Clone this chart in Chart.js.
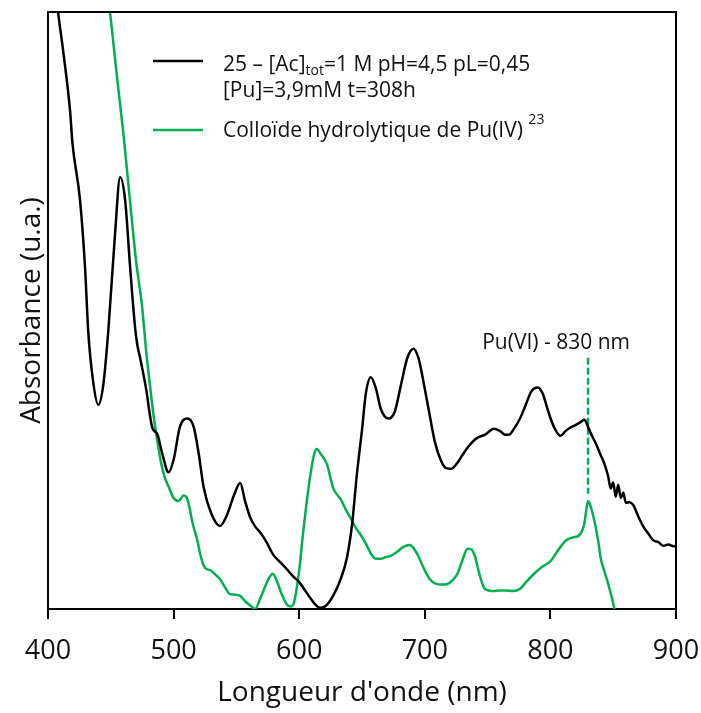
<!DOCTYPE html>
<html>
<head>
<meta charset="utf-8">
<script src="https://cdn.jsdelivr.net/npm/chart.js@4.4.0/dist/chart.umd.min.js"></script>
<style>
    html, body { margin: 0; padding: 0; background: #fff; }
    canvas { display: block; }
</style>
</head>
<body>
<canvas id="spectrumChart" width="701" height="713"></canvas>
<script>
// Black spectrum: 25 - [Ac]tot=1 M pH=4,5 pL=0,45 [Pu]=3,9mM t=308h
const sampleWavelengths = [404, 408, 412, 417.5, 419.5, 425.5, 429.5, 432, 436, 440, 444, 448, 453.4, 457.4, 461.4, 465.4, 469.4, 471, 473.5, 478, 483, 487, 491, 496, 500, 505, 511, 516, 520, 524, 530, 537, 542, 548, 553, 557, 561, 565, 569, 574, 579, 585, 590, 595, 600, 605, 610, 614, 617, 621, 627, 633, 638, 642, 646, 650, 653, 657, 661, 665, 671, 676, 681, 686, 691, 695, 699, 703, 708, 713, 717, 721, 726, 730, 734, 738, 742, 748, 755, 760, 764, 767, 771, 776, 780, 785, 790, 794, 797, 800, 804, 808, 812, 816, 820, 824, 827, 830, 832, 836, 840, 843, 846, 848, 850, 852, 854, 856, 858, 860, 863, 866, 870, 874, 878, 882, 886, 890, 894, 898, 900];
const sampleAbsorbance = [108, 100, 93.6, 83.6, 78, 68.5, 57.2, 46.6, 38, 34.2, 37.5, 46.6, 62.9, 72.3, 68.5, 57.2, 47, 44.4, 41.9, 37, 30.4, 29.3, 26, 22.9, 25, 30.5, 31.9, 30.5, 26, 20.3, 16, 13.9, 15.5, 19, 21.1, 18, 15.3, 13.8, 12.8, 11.2, 9.2, 7.8, 6.7, 5.5, 4.5, 3, 1.5, 0.5, 0.2, 0.5, 2.2, 5, 8.6, 14, 22.7, 30, 36, 38.8, 37, 33.5, 31.9, 33, 37.5, 42, 43.6, 42, 38, 33.5, 28, 24.8, 23.6, 23.5, 24.5, 25.8, 27, 28, 28.7, 29.2, 30.2, 29.8, 29.2, 29.2, 30.2, 32, 34, 36.5, 37.1, 36, 34, 32, 30, 29, 29.8, 30.4, 30.8, 31.3, 31.7, 30.5, 29.5, 27.8, 25.8, 24.3, 22.2, 20.2, 21.2, 18.8, 20.8, 18.6, 19.5, 17.8, 17.9, 17.4, 15.5, 13.8, 12.6, 11.5, 11.2, 10.6, 10.8, 10.5, 10.6];

// Green spectrum: Pu(IV) hydrolytic colloid (ref. 23)
const colloidWavelengths = [447, 449.4, 455, 460, 465, 470, 475, 478, 481, 484, 487, 490, 493, 496, 500, 504, 508, 510, 512, 515, 519, 522, 525, 529, 532, 537, 541, 545, 549, 553, 557, 561, 565, 569, 573, 576, 579, 582, 586, 590, 593, 596, 600, 603, 606, 609, 612, 614, 617, 622, 627, 630, 633, 637, 641, 645, 649, 653, 657, 661, 665, 669, 673, 678, 683, 688, 691, 695, 699, 704, 709, 713, 718, 722, 726, 730, 734, 737, 740, 743, 747, 751, 755, 760, 765, 770, 776, 781, 787, 793, 800, 806, 811, 814, 818, 822, 825, 827, 829, 830, 831, 833, 835, 838, 840, 843, 846, 849, 851, 852];
const colloidAbsorbance = [105, 100, 89, 79.7, 69, 58.5, 50.5, 43.5, 37.8, 32.5, 28.2, 24.5, 22, 20.5, 18.6, 18.1, 19, 18.8, 17.6, 14.5, 11.4, 8.5, 6.9, 6.5, 6, 5, 3.6, 2.5, 2.4, 2.2, 1.3, 0.6, 0, 1.8, 3.8, 5.2, 5.9, 4.8, 2.5, 0.8, 0.4, 1.2, 6.5, 12.6, 18, 22.6, 26, 26.8, 26, 24.3, 20.3, 19.2, 18.4, 16.7, 15.2, 13.6, 12.4, 11, 9.3, 8.4, 8.4, 8.7, 8.9, 9.6, 10.4, 10.7, 10.2, 8.8, 6.9, 5, 4.2, 4.1, 4.2, 4.8, 5.9, 8.2, 10.1, 10, 8.8, 6.2, 3.6, 3.1, 3, 3.1, 3.1, 3, 3.4, 4.6, 5.9, 7, 8, 9.8, 11.2, 11.7, 12, 12.2, 13, 14.3, 17.2, 18.1, 17.8, 16.5, 14.8, 11.5, 8.6, 6.3, 4.2, 1.8, 0, -1.2];

// Pu(VI) marker at 830 nm
const markerWavelengths = [830, 830];
const markerAbsorbance = [42.1, 19.3];
const markerLabel = 'Pu(VI) - 830 nm';

const xTicks = [400, 500, 600, 700, 800, 900];

const BLACK = '#000000';
const GREEN = '#00b050';
const FONT = "'Open Sans', sans-serif";

const toPoints = (xs, ys) => xs.map((x, i) => ({ x: x, y: ys[i] }));

// Frame, legend and the 830 nm label
const decorPlugin = {
    id: 'decor',
    afterDatasetsDraw(chart) {
        const ctx = chart.ctx;
        const area = chart.chartArea;
        ctx.save();

        ctx.strokeStyle = BLACK;
        ctx.lineWidth = 2;
        ctx.beginPath();
        ctx.moveTo(area.left, area.top);
        ctx.lineTo(area.right, area.top);
        ctx.lineTo(area.right, area.bottom);
        ctx.stroke();

        // legend swatches
        ctx.lineWidth = 2.5;
        ctx.strokeStyle = BLACK;
        ctx.beginPath();
        ctx.moveTo(153, 61);
        ctx.lineTo(203, 61);
        ctx.stroke();
        ctx.strokeStyle = GREEN;
        ctx.beginPath();
        ctx.moveTo(153, 130);
        ctx.lineTo(203, 130);
        ctx.stroke();

        ctx.fillStyle = '#111';
        ctx.textBaseline = 'alphabetic';
        ctx.textAlign = 'left';

        let x = 223;
        ctx.font = `21px ${FONT}`;
        ctx.fillText('25 – [Ac]', x, 71);
        x += ctx.measureText('25 – [Ac]').width;
        ctx.font = `14px ${FONT}`;
        ctx.fillText('tot', x, 75);
        x += ctx.measureText('tot').width;
        ctx.font = `21px ${FONT}`;
        ctx.fillText('=1 M pH=4,5 pL=0,45', x, 71);

        ctx.fillText('[Pu]=3,9mM t=308h', 223, 97);

        const colloidText = 'Colloïde hydrolytique de Pu(IV) ';
        ctx.fillText(colloidText, 223, 137);
        x = 223 + ctx.measureText(colloidText).width;
        ctx.font = `14px ${FONT}`;
        ctx.fillText('23', x, 124);

        // annotation above the dashed marker
        ctx.font = `21px ${FONT}`;
        ctx.textAlign = 'center';
        const xPix = chart.scales.x.getPixelForValue(markerWavelengths[0]);
        ctx.fillText(markerLabel, xPix - 32, 349);

        ctx.restore();
    }
};

const ctx = document.getElementById('spectrumChart').getContext('2d');

new Chart(ctx, {
    type: 'line',
    data: {
        datasets: [
            {
                label: '25 – [Ac]tot=1 M pH=4,5 pL=0,45 [Pu]=3,9mM t=308h',
                data: toPoints(sampleWavelengths, sampleAbsorbance),
                borderColor: BLACK,
                borderWidth: 2.5,
                pointRadius: 0,
                cubicInterpolationMode: 'monotone'
            },
            {
                label: 'Colloïde hydrolytique de Pu(IV)',
                data: toPoints(colloidWavelengths, colloidAbsorbance),
                borderColor: GREEN,
                borderWidth: 2.5,
                pointRadius: 0,
                cubicInterpolationMode: 'monotone'
            },
            {
                label: markerLabel,
                data: toPoints(markerWavelengths, markerAbsorbance),
                borderColor: GREEN,
                borderWidth: 2.5,
                borderDash: [7, 3],
                pointRadius: 0
            }
        ]
    },
    options: {
        responsive: false,
        animation: false,
        devicePixelRatio: 1,
        layout: { padding: { top: 12, right: 25, left: 0, bottom: 0 } },
        plugins: {
            legend: { display: false },
            tooltip: { enabled: false }
        },
        scales: {
            x: {
                type: 'linear',
                min: 400,
                max: 900,
                afterBuildTicks: (scale) => {
                    scale.ticks = xTicks.map(v => ({ value: v }));
                },
                afterFit: (scale) => {
                    scale.height = 104;
                    scale.paddingLeft = 0;
                    scale.paddingRight = 0;
                },
                ticks: {
                    color: '#111',
                    font: { family: FONT, size: 27 },
                    padding: 16,
                    maxRotation: 0
                },
                grid: {
                    display: true,
                    drawOnChartArea: false,
                    drawTicks: true,
                    tickLength: 10,
                    color: BLACK,
                    lineWidth: 2
                },
                border: { display: true, color: BLACK, width: 2 },
                title: {
                    display: true,
                    text: "Longueur d'onde (nm)",
                    color: '#111',
                    font: { family: FONT, size: 28 },
                    padding: { top: 0, bottom: 3 }
                }
            },
            y: {
                min: 0,
                max: 100,
                afterFit: (scale) => { scale.width = 48; },
                ticks: { display: false },
                grid: { display: false },
                border: { display: true, color: BLACK, width: 2 },
                title: {
                    display: true,
                    text: 'Absorbance (u.a.)',
                    color: '#111',
                    font: { family: FONT, size: 28 },
                    padding: { top: 15, bottom: 0 }
                }
            }
        }
    },
    plugins: [decorPlugin]
});
</script>
</body>
</html>
